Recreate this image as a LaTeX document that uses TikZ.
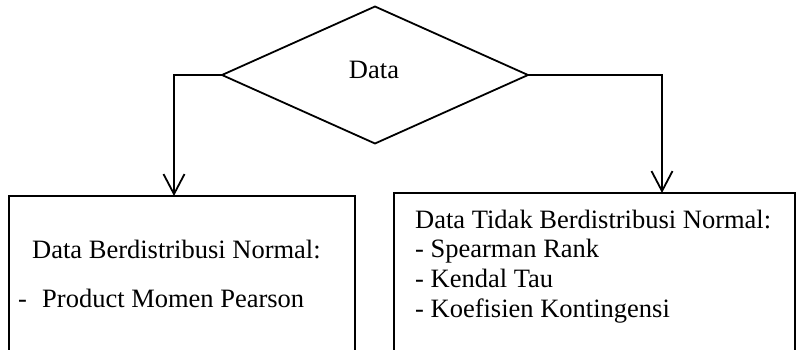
\documentclass[tikz,border=0pt]{standalone}
\usepackage{fontspec}
\setmainfont{Liberation Serif}
\usepackage{tikz}
\usetikzlibrary{shapes.geometric, arrows.meta, positioning, calc}

\begin{document}
\begin{tikzpicture}[
    x=1pt, y=-1pt,
    decision/.style={diamond, draw, line width=1.8pt, inner sep=0pt, outer sep=0pt, minimum width=306pt, minimum height=137pt},
    box/.style={rectangle, draw, line width=1.8pt, inner sep=0pt, outer sep=0pt, anchor=north west, minimum height=190pt},
    txt/.style={inner sep=0pt, anchor=base west, font=\fontsize{26.5}{30.5}\selectfont},
    arr/.style={-{Straight Barb[length=20pt, width=21pt]}, line width=1.8pt}
]
\useasboundingbox (0,0) rectangle (798,349);
\clip (0,0) rectangle (798,349);

% Decision
\node[decision] (dat) at (375,75) {};
\node[txt, anchor=base] (datlbl) at (374,78) {Data};

% Boxes
\node[box, minimum width=346pt] (nrm) at (9,196) {};
\node[box, minimum width=401pt] (tnrm) at (394,193) {};

% Branches
\draw[arr] (dat.west) -| ([xshift=-8pt]nrm.north);
\draw[arr] (dat.east) -| ([xshift=67.5pt]tnrm.north);

% Normal data
\node[txt] (nrmhd) at (32,258) {Data Berdistribusi Normal:};
\node[txt] (nrmdash) at (18,307) {-};
\node[txt] (nrmpm) at (42,307) {Product Momen Pearson};

% Non-normal data
\node[txt] (tnrmhd) at (415,228) {Data Tidak Berdistribusi Normal:};
\node[txt] (tnrmsr) at (415,257) {- Spearman Rank};
\node[txt] (tnrmkt) at (415,287) {- Kendal Tau};
\node[txt] (tnrmkk) at (415,317) {- Koefisien Kontingensi};

\end{tikzpicture}
\end{document}
